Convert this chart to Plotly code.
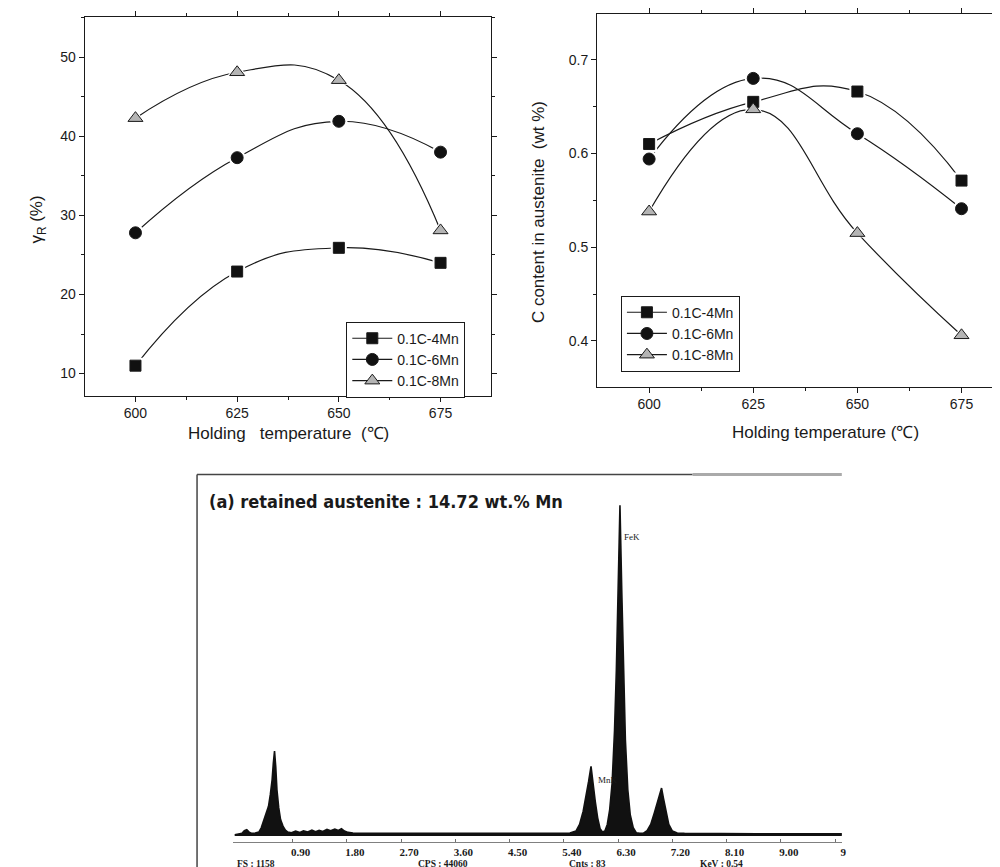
import plotly.graph_objects as go

# ---------------- data ----------------
temps = [600, 625, 650, 675]
series_names = ["0.1C-4Mn", "0.1C-6Mn", "0.1C-8Mn"]

gamma_4mn = [11.0, 22.9, 25.9, 24.0]
gamma_6mn = [27.8, 37.3, 41.9, 38.0]
gamma_8mn = [42.3, 48.1, 47.1, 28.1]

carbon_4mn = [0.610, 0.655, 0.666, 0.571]
carbon_6mn = [0.594, 0.680, 0.621, 0.541]
carbon_8mn = [0.538, 0.647, 0.515, 0.406]

energy_kev = [-0.06, 0.00, 0.06, 0.10, 0.14, 0.18, 0.22, 0.28, 0.34, 0.38,
              0.42, 0.46, 0.50, 0.53, 0.56, 0.58, 0.60, 0.62, 0.64, 0.67,
              0.70, 0.74, 0.78, 0.82, 0.88, 0.95, 1.02, 1.08, 1.15, 1.22,
              1.28, 1.34, 1.40, 1.47, 1.53, 1.60, 1.66, 1.71, 1.76, 1.82,
              1.90, 2.20, 2.60, 3.00, 3.40, 3.80, 4.20, 4.60, 5.00, 5.30,
              5.50, 5.60, 5.66, 5.72, 5.77, 5.81, 5.85, 5.88, 5.92, 5.96,
              6.00, 6.04, 6.08, 6.12, 6.16, 6.20, 6.24, 6.27, 6.30, 6.33,
              6.36, 6.39, 6.42, 6.46, 6.50, 6.55, 6.60, 6.66, 6.72, 6.78,
              6.84, 6.90, 6.95, 6.99, 7.02, 7.05, 7.09, 7.14, 7.20, 7.28,
              7.40, 7.80, 8.20, 8.60, 9.00, 9.40, 9.80, 10.20, 10.60, 11.00]
counts = [0.4, 0.6, 0.8, 1.6, 1.9, 1.2, 0.8, 0.9, 1.2, 2.5,
          4.5, 6.5, 9.0, 12.5, 17.0, 22.0, 25.7, 21.0, 14.0, 8.5,
          5.0, 3.0, 1.8, 1.2, 1.0, 1.5, 1.1, 1.6, 1.2, 1.8,
          1.3, 1.7, 1.4, 2.0, 1.6, 2.1, 1.7, 2.2, 1.5, 1.1,
          0.9, 0.8, 0.8, 0.7, 0.7, 0.7, 0.7, 0.7, 0.7, 0.8,
          0.9, 1.5, 3.5, 7.5, 12.0, 16.5, 21.1, 16.0, 10.5, 5.5,
          2.2, 1.2, 1.5, 3.5, 8.0, 16.0, 32.0, 50.0, 74.0, 100.0,
          74.0, 48.0, 29.0, 14.0, 6.5, 2.5, 1.0, 0.8, 0.9, 1.6,
          3.5, 7.0, 10.5, 13.0, 14.5, 11.5, 7.5, 3.5, 1.5, 0.9,
          0.8, 0.7, 0.8, 0.7, 0.7, 0.8, 0.7, 0.7, 0.7, 0.7]

kev_ticks = [0.9, 1.8, 2.7, 3.6, 4.5, 5.4, 6.3, 7.2, 8.1, 9.0, 9.9]
kev_labels = ["0.90", "1.80", "2.70", "3.60", "4.50", "5.40", "6.30",
              "7.20", "8.10", "9.00", "9"]

# ---------------- styles ----------------
SANS = "Liberation Sans, Arial, sans-serif"
SERIF = "Liberation Serif, Times New Roman, serif"
INK = "#1a1a1a"
symbols = ["square", "circle", "triangle-up"]
fills = ["#111111", "#111111", "#b4b4b4"]
sizes = [11, 12, 13]


def px(x):
    return x / 1000.0


def py(y):
    return 1 - y / 867.0


fig = go.Figure()


def add_panel(xa, ya, ys, legend_name):
    for i, yv in enumerate(ys):
        fig.add_trace(go.Scatter(x=temps, y=yv, xaxis=xa, yaxis=ya, mode="lines",
                                 line=dict(color=INK, width=1.2, shape="spline", smoothing=1.3),
                                 showlegend=False, hoverinfo="skip"))
    for i, yv in enumerate(ys):
        fig.add_trace(go.Scatter(x=temps, y=yv, xaxis=xa, yaxis=ya, mode="markers",
                                 marker=dict(symbol=symbols[i], size=sizes[i] + 5, color="white"),
                                 showlegend=False, hoverinfo="skip"))
    for i, yv in enumerate(ys):
        fig.add_trace(go.Scatter(x=temps, y=yv, xaxis=xa, yaxis=ya, mode="markers",
                                 marker=dict(symbol=symbols[i], size=sizes[i], color=fills[i],
                                             line=dict(color=INK, width=1)),
                                 name=series_names[i], showlegend=False))
    for i in range(3):
        fig.add_trace(go.Scatter(x=[None], y=[None], xaxis=xa, yaxis=ya, mode="lines+markers",
                                 line=dict(color=INK, width=1.2),
                                 marker=dict(symbol=symbols[i], size=sizes[i], color=fills[i],
                                             line=dict(color=INK, width=1)),
                                 name=series_names[i], legend=legend_name))


add_panel("x", "y", [gamma_4mn, gamma_6mn, gamma_8mn], "legend")
add_panel("x2", "y2", [carbon_4mn, carbon_6mn, carbon_8mn], "legend2")

# EDS spectrum
fig.add_trace(go.Scatter(x=energy_kev, y=counts, xaxis="x3", yaxis="y3", mode="lines",
                         fill="tozeroy", fillcolor="#111111",
                         line=dict(color="#111111", width=1.6),
                         showlegend=False, hoverinfo="skip"))

axis_common = dict(showline=True, linecolor=INK, linewidth=1, showgrid=False, zeroline=False,
                   ticks="outside", ticklen=5, tickwidth=1, tickcolor=INK,
                   tickfont=dict(family=SANS, size=14, color=INK))

legend_common = dict(xanchor="left", yanchor="top", bordercolor=INK, borderwidth=1,
                     bgcolor="white", font=dict(family=SANS, size=14, color=INK),
                     itemwidth=40, tracegroupgap=0)

EDS_RIGHT = 838

fig.update_layout(
    width=1000, height=867,
    margin=dict(l=0, r=0, t=0, b=0),
    paper_bgcolor="white", plot_bgcolor="white",
    showlegend=True,
    xaxis=dict(domain=[px(77), px(485)], anchor="y", range=[587.5, 687.3],
               tickvals=temps, mirror="ticks",
               minor=dict(tickvals=[612.5, 637.5, 662.5], ticks="outside", ticklen=3,
                          tickcolor=INK, showgrid=False),
               **axis_common),
    yaxis=dict(domain=[py(387), py(8)], anchor="x", range=[7.22, 55.09],
               tick0=0, dtick=10, mirror="ticks",
               minor=dict(tick0=0, dtick=5, ticks="outside", ticklen=3,
                          tickcolor=INK, showgrid=False),
               **axis_common),
    xaxis2=dict(domain=[px(592), 1.0], anchor="y2", range=[587.5, 684.96],
                tickvals=temps, mirror="ticks",
                minor=dict(tickvals=[612.5, 637.5, 662.5], ticks="outside", ticklen=3,
                           tickcolor=INK, showgrid=False),
                **axis_common),
    yaxis2=dict(domain=[py(378), py(5)], anchor="x2", range=[0.3513, 0.7487],
                tick0=0, dtick=0.1, tickformat=".1f", mirror=False,
                minor=dict(tick0=0, dtick=0.05, ticks="outside", ticklen=3,
                           tickcolor=INK, showgrid=False),
                **axis_common),
    xaxis3=dict(domain=[px(226), px(EDS_RIGHT)], anchor="y3", range=[-0.091, 10.01],
                showline=True, linecolor="#808080", linewidth=1, showgrid=False, zeroline=False,
                tickvals=kev_ticks, ticktext=kev_labels, ticks="inside", ticklen=3,
                tickcolor="#707070", ticklabelshift=8,
                tickfont=dict(family=SERIF, size=11, color=INK, weight="bold")),
    yaxis3=dict(domain=[py(834), py(480)], anchor="x3", range=[-1.81, 105.1], visible=False),
    legend=dict(x=px(340), y=py(313), **legend_common),
    legend2=dict(x=px(616), y=py(287), **legend_common),
)

NB = "\u00a0"
annots = [
    dict(text="γ<sub>R</sub> (%)", x=px(30), y=py(211), textangle=-90,
         font=dict(family=SANS, size=17, color=INK)),
    dict(text=f"Holding{NB}{NB}{NB}temperature{NB}{NB}(℃)", x=px(282), y=py(425),
         font=dict(family=SANS, size=17, color=INK)),
    dict(text=f"C content in austenite{NB}{NB}(wt %)", x=px(533), y=py(203), textangle=-90,
         font=dict(family=SANS, size=17, color=INK)),
    dict(text=f"Holding temperature{NB}(℃)", x=px(822), y=py(424),
         font=dict(family=SANS, size=17, color=INK)),
    dict(text="(a) retained austenite : 14.72 wt.% Mn", x=px(200), y=py(493), xanchor="left",
         font=dict(family="DejaVu Sans Condensed, DejaVu Sans, sans-serif", size=18,
                   color=INK, weight="bold")),
    dict(text="FeK", x=px(617), y=py(529), xanchor="left",
         font=dict(family=SERIF, size=9, color=INK)),
    dict(text="MnK", x=px(591), y=py(772), xanchor="left",
         font=dict(family=SERIF, size=9, color=INK)),
    dict(text="FS : 1158", x=px(228), y=py(856), xanchor="left",
         font=dict(family=SERIF, size=9.5, color=INK, weight="bold")),
    dict(text="CPS : 44060", x=px(410), y=py(856), xanchor="left",
         font=dict(family=SERIF, size=9.5, color=INK, weight="bold")),
    dict(text="Cnts : 83", x=px(562), y=py(856), xanchor="left",
         font=dict(family=SERIF, size=9.5, color=INK, weight="bold")),
    dict(text="KeV : 0.54", x=px(693), y=py(856), xanchor="left",
         font=dict(family=SERIF, size=9.5, color=INK, weight="bold")),
]
for a in annots:
    a.update(xref="paper", yref="paper", showarrow=False)
    a.setdefault("xanchor", "center")
    a["yanchor"] = "middle"
    fig.add_annotation(**a)

# EDS frame
shapes = [
    dict(x0=px(190), x1=px(190), y0=py(466), y1=py(870), line=dict(color="#444444", width=1.5)),
    dict(x0=px(190), x1=px(688), y0=py(466), y1=py(466), line=dict(color="#444444", width=1.5)),
    dict(x0=px(688), x1=px(EDS_RIGHT), y0=py(466), y1=py(466), line=dict(color="#aaaaaa", width=3)),
    dict(x0=px(480), x1=px(690), y0=py(865), y1=py(865), line=dict(color="#999999", width=1)),
    dict(x0=px(690), x1=px(EDS_RIGHT), y0=py(865), y1=py(865), line=dict(color="#333333", width=2)),
]
for s in shapes:
    s.update(type="line", xref="paper", yref="paper")
    fig.add_shape(**s)

fig.write_html("out.html")
